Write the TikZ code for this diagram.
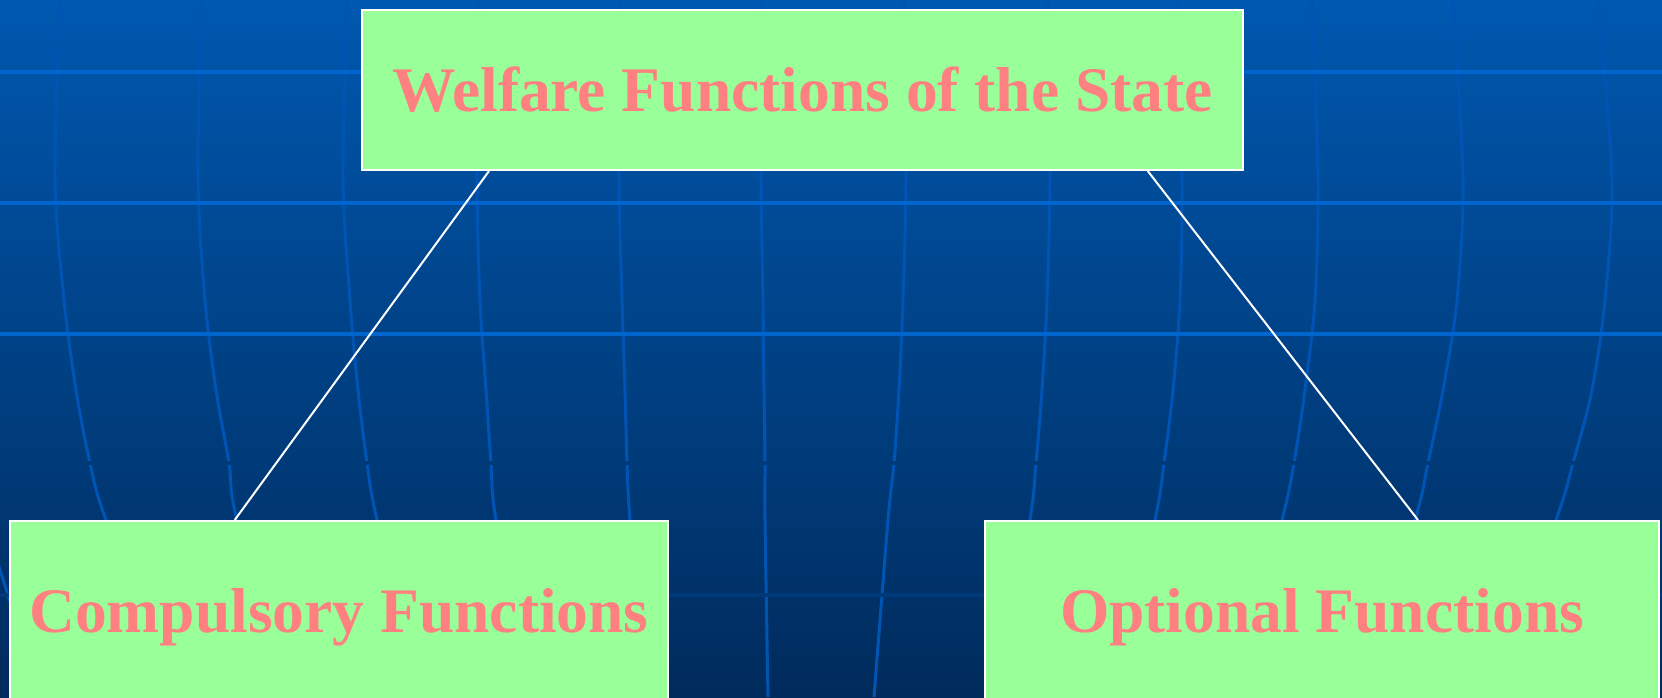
\documentclass[tikz,border=0pt]{standalone}
\usepackage{fontspec}
\setmainfont{Liberation Serif}
\usetikzlibrary{calc}

\definecolor{bgtop}{RGB}{0,88,176}
\definecolor{bgbottom}{RGB}{0,43,92}
\definecolor{gridline}{RGB}{0,84,180}
\definecolor{brightline}{RGB}{0,102,206}
\definecolor{gapline}{RGB}{0,58,121}
\definecolor{darkline}{RGB}{0,58,122}
\definecolor{boxgreen}{RGB}{153,255,153}
\definecolor{labelpink}{RGB}{255,128,128}

\begin{document}
\begin{tikzpicture}[x=1pt,y=-1pt,
    fbox/.style={draw=white, line width=2pt, fill=boxgreen, text=labelpink,
        inner sep=0pt, text height=56pt, text depth=14pt,
        font=\fontsize{63.5}{70}\selectfont\bfseries},
    link/.style={draw=white, line width=2pt},
    meridian/.style={draw=gridline, line width=3pt},
    parallel/.style={line width=4pt}]

    \useasboundingbox (0,0) rectangle (1662,697);
    \clip (0,0) rectangle (1662,697);

    % background
    \shade[top color=bgtop, bottom color=bgbottom] (0,0) rectangle (1662,697);

    \foreach \a/\b/\c/\d/\e/\f/\g in {-90/-95/-85/-62/-38/-16/40,
            60/55/64/76/90/106/175, 201/198/205/216/229/237/290,
            347/343/350/358/367/377/420, 479/477/480/486/491/496/530,
            620/619/622/625/627/630/645, 761/761/763/764/765/765/768,
            904/906/903/899/894/888/874, 1048/1050/1047/1042/1036/1030/1000,
            1177/1182/1180/1173/1164/1155/1115, 1312/1318/1315/1305/1294/1282/1235,
            1453/1463/1457/1443/1428/1415/1360, 1598/1612/1605/1592/1573/1556/1490}
        \draw[meridian] plot[smooth] coordinates
            {(\a,0) (\b,180) (\c,300) (\d,390) (\e,463) (\f,520) (\g,697)};

    \foreach \y in {72,203,334}
        \draw[parallel, brightline] (0,\y) -- (1662,\y);
    \draw[parallel, gapline] (0,463) -- (1662,463);
    \draw[parallel, darkline] (0,595) -- (1662,595);

    % boxes
    \node[fbox, minimum width=881pt, minimum height=160pt] (welfare) at (802.5,90)
        {Welfare Functions of the State};
    \node[fbox, minimum width=658pt, minimum height=180pt] (compulsory) at (339,611)
        {Compulsory Functions};
    \node[fbox, minimum width=674pt, minimum height=180pt] (optional) at (1322,611)
        {Optional Functions};

    \draw[link] ($(welfare.south west)!0.145!(welfare.south east)$)
        -- ($(compulsory.north west)!0.342!(compulsory.north east)$);
    \draw[link] ($(welfare.south west)!0.891!(welfare.south east)$)
        -- ($(optional.north west)!0.642!(optional.north east)$);
\end{tikzpicture}
\end{document}
